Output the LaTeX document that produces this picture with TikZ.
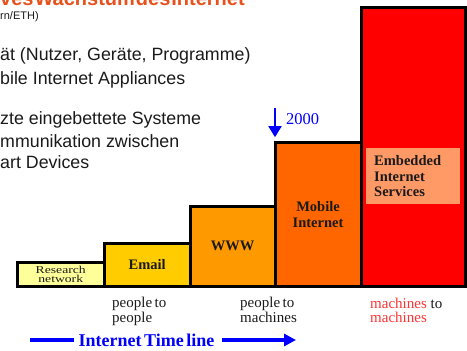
\documentclass[tikz,border=0pt]{standalone}
\usepackage{fontspec}
\setmainfont{Liberation Serif}
\setsansfont{Liberation Sans}
\newfontfamily\widerm{Liberation Serif}[FakeStretch=1.3]
\usepackage{tikz}
\usetikzlibrary{arrows.meta,positioning}

\definecolor{researchfill}{HTML}{FFFF99}
\definecolor{emailfill}{HTML}{FFCC00}
\definecolor{wwwfill}{HTML}{FF9900}
\definecolor{mobilefill}{HTML}{FF6600}
\definecolor{embeddedfill}{HTML}{FF0000}
\definecolor{servicefill}{HTML}{FF9966}
\definecolor{titleorange}{HTML}{E8501C}
\definecolor{machred}{HTML}{FF3333}
\definecolor{darktext}{HTML}{1A1A1A}

\newcommand{\tightsp}[1]{\spaceskip=#1\relax}

\begin{document}
\begin{tikzpicture}[x=1pt,y=-1pt,
    bar/.style={draw=black,line width=3pt,rectangle,anchor=south west,
                inner sep=0pt,outer sep=0pt,align=center,text=darktext,
                font=\bfseries\fontsize{14.5}{15.5}\selectfont},
    slide text/.style={anchor=base west,inner sep=0pt,text=darktext,
                font=\sffamily\fontsize{17.8}{20}\selectfont},
    usage/.style={anchor=base west,inner sep=0pt,align=left,text=darktext,
                font=\fontsize{15}{13.5}\selectfont}]

  \useasboundingbox (0,0) rectangle (467,351);

  % heading of the slide, cut off at the top
  \node[anchor=base west,inner sep=0pt,text=titleorange,
        font=\sffamily\bfseries\fontsize{20}{20}\selectfont]
        (title) at (0,5) {\tightsp{1pt}ves Wachstum des Internet};
  \node[anchor=base west,inner sep=0pt,text=darktext,
        font=\sffamily\fontsize{11}{11}\selectfont] (source) at (0,19.5) {rn/ETH)};

  \node[slide text] (line1) at (0,60.5) {ät (Nutzer, Geräte, Programme)};
  \node[slide text] (line2) at (0,84) {bile Internet Appliances};
  \node[slide text] (line3) at (0,124.5) {zte eingebettete Systeme};
  \node[slide text] (line4) at (0,147) {mmunikation zwischen};
  \node[slide text] (line5) at (0,168) {art Devices};

  % the five steps
  \node[bar,fill=researchfill,minimum width=86.5pt,minimum height=23.5pt,
        font=\widerm\fontsize{10.5}{9}\selectfont] (research) at (17.5,286) {Research\\network};
  \node[bar,fill=emailfill,minimum width=86.3pt,minimum height=43pt]
        (email) at (research.south east) {Email};
  \node[bar,fill=wwwfill,minimum width=84.7pt,minimum height=80pt]
        (www) at (email.south east) {WWW};
  \node[bar,fill=mobilefill,minimum width=86pt,minimum height=143.3pt]
        (mobile) at (www.south east) {Mobile\\Internet};
  \node[bar,fill=embeddedfill,minimum width=104.5pt,minimum height=279pt]
        (embedded) at (mobile.south east) {};
  \node[anchor=north west,fill=servicefill,inner sep=0pt,inner xsep=8pt,
        minimum width=94pt,minimum height=56pt,text width=78pt,align=left,
        text=darktext,font=\bfseries\fontsize{14.5}{15.5}\selectfont]
        (services) at (366,148) {Embedded\\Internet\\Services};

  % year marker
  \coordinate (yeartop) at (275,108);
  \node[anchor=west,inner sep=0pt,text=blue,font=\fontsize{16.5}{16.5}\selectfont]
        (year) at (286,119) {2000};
  \draw[blue,line width=1.8pt,-{Triangle[width=13pt,length=11pt]},shorten >=5.5pt]
        (yeartop) -- (mobile.north west);

  % who talks to whom
  \node[usage] (p2p) at (112,322) {\tightsp{2.5pt}people to\\people};
  \node[usage] (p2m) at (240,322) {\tightsp{2.5pt}people to\\machines};
  \node[usage] (m2m) at (370,322) {\textcolor{machred}{machines} to\\\textcolor{machred}{machines}};

  % time line
  \node[inner sep=0pt,text=blue,font=\bfseries\fontsize{18}{18}\selectfont]
        (timeline) at (146.5,340) {\tightsp{2.5pt}Internet Time line};
  \coordinate (tlstart) at (30,340);
  \coordinate (tlend) at (296,340);
  \draw[blue,line width=4pt] (tlstart) -- ([xshift=-4pt]timeline.west);
  \draw[blue,line width=4pt,-{Triangle[width=12pt,length=12pt]}]
        ([xshift=7pt]timeline.east) -- (tlend);

\end{tikzpicture}
\end{document}
